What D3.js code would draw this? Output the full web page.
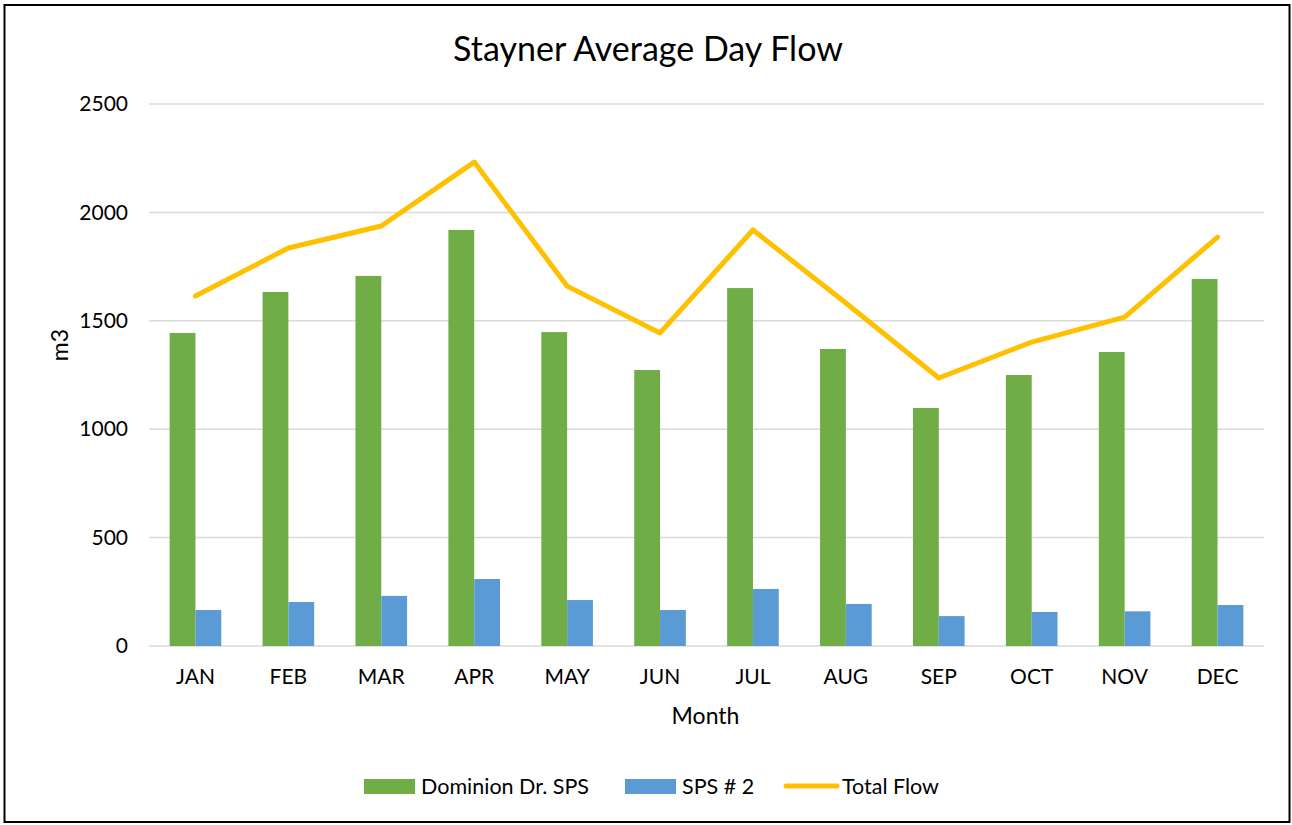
<!DOCTYPE html>
<html>
<head>
<meta charset="utf-8">
<script src="https://cdn.jsdelivr.net/npm/d3@7"></script>
<style>
  body { margin: 0; background: #fff; }
  svg { display: block; font-family: Lato, "Open Sans", sans-serif; }
</style>
</head>
<body>
<svg id="chart"></svg>
<script>
// Data
const months = ["JAN", "FEB", "MAR", "APR", "MAY", "JUN", "JUL", "AUG", "SEP", "OCT", "NOV", "DEC"];
const dominion = [1444, 1633, 1707, 1919, 1448, 1273, 1651, 1370, 1098, 1250, 1356, 1693];
const sps2 = [166, 203, 231, 309, 212, 166, 263, 194, 138, 157, 160, 189];
const totalFlow = [1614, 1836, 1937, 2232, 1660, 1444, 1919, 1582, 1236, 1402, 1517, 1886];
const yTicks = [0, 500, 1000, 1500, 2000, 2500];

const W = 1292, H = 825;
const margin = { top: 104, right: 28, bottom: 179, left: 149 };
const width = W - margin.left - margin.right;
const height = H - margin.top - margin.bottom;

const colors = { dom: "#70AD47", sps: "#5B9BD5", total: "#FFC000" };

const svg = d3.select("#chart")
    .attr("width", W)
    .attr("height", H);

// Outer frame
svg.append("rect")
    .attr("x", 4.5)
    .attr("y", 5)
    .attr("width", W - 7)
    .attr("height", H - 8)
    .attr("fill", "#fff")
    .attr("stroke", "#000")
    .attr("stroke-width", 2);

const g = svg.append("g")
    .attr("transform", `translate(${margin.left},${margin.top})`);

// Scales
const x = d3.scaleBand()
    .domain(months)
    .range([0, width])
    .paddingInner(0)
    .paddingOuter(0);

const y = d3.scaleLinear()
    .domain([0, 2500])
    .range([height, 0]);

const barW = x.bandwidth() / 3.6;

// Gridlines
g.append("g")
    .selectAll("line")
    .data(yTicks)
    .enter().append("line")
    .attr("x1", 0)
    .attr("x2", width)
    .attr("y1", d => y(d))
    .attr("y2", d => y(d))
    .attr("stroke", "#D9D9D9")
    .attr("stroke-width", 1.5);

// Y axis labels
const yAxis = g.append("g")
    .call(d3.axisLeft(y).tickValues(yTicks).tickFormat(d3.format("d")).tickSize(0).tickPadding(21));
yAxis.select(".domain").remove();
yAxis.selectAll("text")
    .attr("font-size", "21px")
    .attr("font-family", "Lato, sans-serif")
    .attr("fill", "#000");

// X axis labels
const xAxis = g.append("g")
    .attr("transform", `translate(0,${height})`)
    .call(d3.axisBottom(x).tickSize(0).tickPadding(23));
xAxis.select(".domain").remove();
xAxis.selectAll("text")
    .attr("font-size", "21px")
    .attr("font-family", "Lato, sans-serif")
    .attr("fill", "#000");

// Bars
g.append("g")
    .selectAll("rect")
    .data(dominion)
    .enter().append("rect")
    .attr("x", (d, i) => x(months[i]) + x.bandwidth() / 2 - barW)
    .attr("y", d => y(d))
    .attr("width", barW)
    .attr("height", d => height - y(d))
    .attr("fill", colors.dom);

g.append("g")
    .selectAll("rect")
    .data(sps2)
    .enter().append("rect")
    .attr("x", (d, i) => x(months[i]) + x.bandwidth() / 2)
    .attr("y", d => y(d))
    .attr("width", barW)
    .attr("height", d => height - y(d))
    .attr("fill", colors.sps);

// Total flow line
const line = d3.line()
    .x((d, i) => x(months[i]) + x.bandwidth() / 2)
    .y(d => y(d));

g.append("path")
    .datum(totalFlow)
    .attr("fill", "none")
    .attr("stroke", colors.total)
    .attr("stroke-width", 5)
    .attr("stroke-linecap", "round")
    .attr("stroke-linejoin", "round")
    .attr("d", line);

// Title
svg.append("text")
    .attr("x", 648)
    .attr("y", 61)
    .attr("text-anchor", "middle")
    .attr("font-size", "34px")
    .text("Stayner Average Day Flow");

// Axis titles
svg.append("text")
    .attr("x", margin.left + width / 2 - 1)
    .attr("y", 724)
    .attr("text-anchor", "middle")
    .attr("font-size", "23px")
    .text("Month");

svg.append("text")
    .attr("transform", "rotate(-90)")
    .attr("x", -345)
    .attr("y", 68)
    .attr("text-anchor", "middle")
    .attr("font-size", "23px")
    .text("m3");

// Legend
const legendItems = [
    { name: "Dominion Dr. SPS", color: colors.dom, type: "rect", x: 364 },
    { name: "SPS # 2", color: colors.sps, type: "rect", x: 625 },
    { name: "Total Flow", color: colors.total, type: "line", x: 784 }
];

const legend = svg.append("g")
    .selectAll("g")
    .data(legendItems)
    .enter().append("g")
    .attr("transform", d => `translate(${d.x},786)`);

legend.filter(d => d.type === "rect").append("rect")
    .attr("x", 0)
    .attr("y", -7)
    .attr("width", 51)
    .attr("height", 15)
    .attr("fill", d => d.color);

legend.filter(d => d.type === "line").append("line")
    .attr("x1", 2)
    .attr("x2", 53)
    .attr("y1", 0)
    .attr("y2", 0)
    .attr("stroke", d => d.color)
    .attr("stroke-width", 5)
    .attr("stroke-linecap", "round");

legend.append("text")
    .attr("x", d => d.type === "rect" ? 57 : 58)
    .attr("y", 0)
    .attr("dy", "0.35em")
    .attr("font-size", "21.5px")
    .text(d => d.name);
</script>
</body>
</html>
